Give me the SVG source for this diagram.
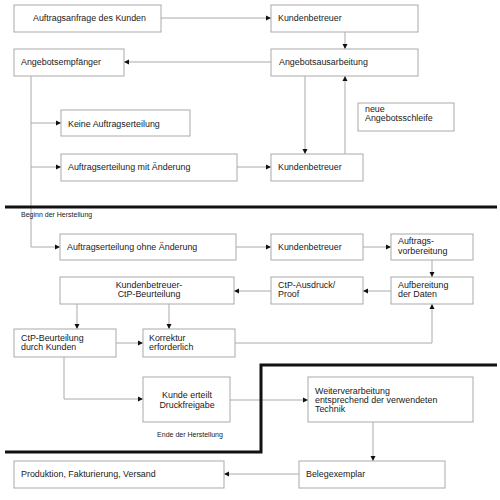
<svg xmlns="http://www.w3.org/2000/svg" width="500" height="500" viewBox="0 0 500 500">
<defs>
<marker id="ah" markerWidth="6" markerHeight="6" refX="5" refY="3" orient="auto" markerUnits="userSpaceOnUse">
<path d="M0,0.5 L5,3 L0,5.5 Z" fill="#111"/>
</marker>
<style>
.b{fill:#fff;stroke:#aaa;stroke-width:1}
.t{font-family:"Liberation Sans",Arial,sans-serif;font-size:8.9px;fill:#1a1a1a}
.s{font-family:"Liberation Sans",Arial,sans-serif;font-size:7px;fill:#1a1a1a}
.c path{fill:none;stroke:#aaa;stroke-width:1}
.a{marker-end:url(#ah)}
.k{fill:none;stroke:#111;stroke-width:3}
</style>
</defs>
<rect width="500" height="500" fill="#fff"/>
<g class="c" id="connectors">
<path class="a" d="M161,18 H271"/>
<path class="a" d="M345,32 V49"/>
<path class="a" d="M271,62 H124"/>
<path class="a" d="M31,76 V247 H60"/>
<path class="a" d="M31,123 H61"/>
<path class="a" d="M31,167 H61"/>
<path class="a" d="M237,167 H271"/>
<path class="a" d="M305,76 V154"/>
<path class="a" d="M345,154 V76"/>
<path class="a" d="M236,247 H271"/>
<path class="a" d="M363,247 H391"/>
<path class="a" d="M432,260 V277"/>
<path class="a" d="M391,291 H363"/>
<path class="a" d="M271,291 H234"/>
<path class="a" d="M77,304 V329"/>
<path class="a" d="M169,304 V329"/>
<path class="a" d="M116,343 H143"/>
<path class="a" d="M235,343 H432 V304"/>
<path class="a" d="M64,357 V399 H143"/>
<path class="a" d="M230,400 H308"/>
<path class="a" d="M373,422 V461"/>
<path class="a" d="M299,474 H224"/>
</g>
<g id="phases">
<path class="k" d="M5,207 H497"/>
<path class="k" d="M5,452 H261 V365 H497"/>
<text class="s" x="21" y="217">Beginn der Herstellung</text>
<text class="s" x="190" y="437" text-anchor="middle">Ende der Herstellung</text>
</g>
<g id="n1"><rect class="b" x="14" y="5" width="147" height="27"/><text class="t" x="33" y="21">Auftragsanfrage des Kunden</text></g>
<g id="n2"><rect class="b" x="271" y="5" width="147" height="27"/><text class="t" x="278" y="21">Kundenbetreuer</text></g>
<g id="n3"><rect class="b" x="14" y="49" width="110" height="27"/><text class="t" x="21" y="65">Angebotsempfänger</text></g>
<g id="n4"><rect class="b" x="271" y="49" width="147" height="27"/><text class="t" x="279" y="65">Angebotsausarbeitung</text></g>
<g id="n5"><rect class="b" x="61" y="110" width="129" height="26"/><text class="t" x="68" y="127">Keine Auftragserteilung</text></g>
<g id="n6"><rect class="b" x="358" y="103" width="96" height="28"/><text class="t" x="365" y="112">neue</text><text class="t" x="365" y="121">Angebotsschleife</text></g>
<g id="n7"><rect class="b" x="61" y="154" width="176" height="27"/><text class="t" x="68" y="170">Auftragserteilung mit Änderung</text></g>
<g id="n8"><rect class="b" x="271" y="154" width="92" height="27"/><text class="t" x="278" y="170">Kundenbetreuer</text></g>
<g id="n9"><rect class="b" x="60" y="234" width="176" height="26"/><text class="t" x="67" y="250">Auftragserteilung ohne Änderung</text></g>
<g id="n10"><rect class="b" x="271" y="234" width="92" height="26"/><text class="t" x="278" y="250">Kundenbetreuer</text></g>
<g id="n11"><rect class="b" x="391" y="234" width="82" height="26"/><text class="t" x="398" y="244">Auftrags-</text><text class="t" x="398" y="254">vorbereitung</text></g>
<g id="n12"><rect class="b" x="391" y="277" width="82" height="27"/><text class="t" x="398" y="288">Aufbereitung</text><text class="t" x="398" y="297">der Daten</text></g>
<g id="n13"><rect class="b" x="271" y="277" width="92" height="27"/><text class="t" x="278" y="288">CtP-Ausdruck/</text><text class="t" x="278" y="297">Proof</text></g>
<g id="n14"><rect class="b" x="60" y="277" width="174" height="27"/><text class="t" x="149" y="288" text-anchor="middle">Kundenbetreuer-</text><text class="t" x="149" y="297" text-anchor="middle">CtP-Beurteilung</text></g>
<g id="n15"><rect class="b" x="14" y="329" width="102" height="28"/><text class="t" x="21" y="341">CtP-Beurteilung</text><text class="t" x="21" y="350">durch Kunden</text></g>
<g id="n16"><rect class="b" x="143" y="329" width="92" height="28"/><text class="t" x="149" y="341">Korrektur</text><text class="t" x="149" y="350">erforderlich</text></g>
<g id="n17"><rect class="b" x="143" y="377" width="87" height="45"/><text class="t" x="187" y="398" text-anchor="middle">Kunde erteilt</text><text class="t" x="187" y="408" text-anchor="middle">Druckfreigabe</text></g>
<g id="n18"><rect class="b" x="308" y="377" width="165" height="45"/><text class="t" x="315" y="394">Weiterverarbeitung</text><text class="t" x="315" y="403">entsprechend der verwendeten</text><text class="t" x="315" y="412">Technik</text></g>
<g id="n19"><rect class="b" x="299" y="461" width="146" height="27"/><text class="t" x="306" y="477">Belegexemplar</text></g>
<g id="n20"><rect class="b" x="14" y="461" width="210" height="27"/><text class="t" x="21" y="477">Produktion, Fakturierung, Versand</text></g>
</svg>
